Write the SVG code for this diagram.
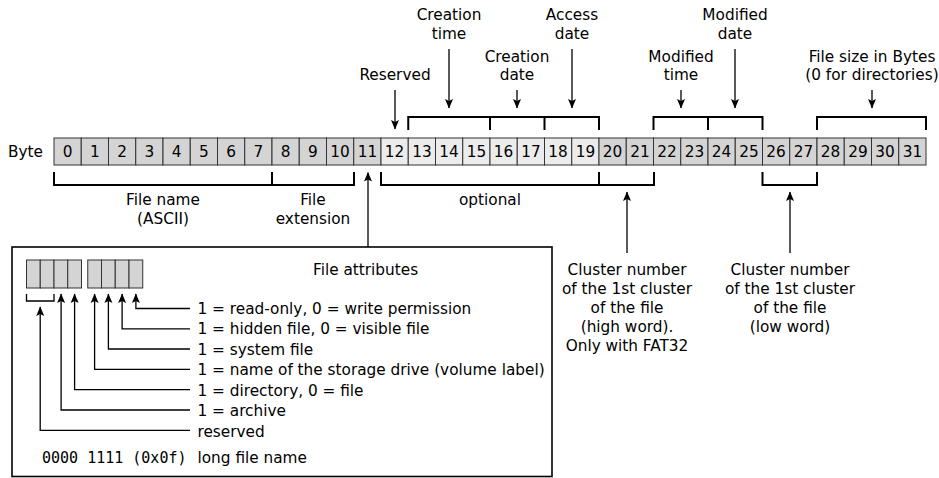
<svg xmlns="http://www.w3.org/2000/svg" width="939" height="478" viewBox="0 0 939 478">
<defs>
<marker id="ah" viewBox="-10 -5 11 10" refX="0" refY="0" markerWidth="11" markerHeight="10" markerUnits="userSpaceOnUse" orient="auto">
<path d="M0.5,0 L-9,-4 L-7,0 L-9,4 Z" fill="#000"/>
</marker>
<style>
text{font-family:"DejaVu Sans","Liberation Sans",sans-serif;font-size:15.3px;fill:#000}
.c{text-anchor:middle}
.mono{font-family:"DejaVu Sans Mono","Liberation Mono",monospace;font-size:15px}
.d{fill:#d4d4d4;stroke:#333;stroke-width:1}
.l{fill:#ececec;stroke:#333;stroke-width:1}
.br{fill:none;stroke:#000;stroke-width:2}
.ar{fill:none;stroke:#000;stroke-width:1.3;marker-end:url(#ah)}
.box{fill:#fff;stroke:#000;stroke-width:1.6}
</style>
</defs>
<rect width="939" height="478" fill="#fff"/>

<g id="byte-label"><text x="8" y="157">Byte</text></g>

<g id="byte-row">
<rect class="d" x="54" y="138" width="27.25" height="27"/><text class="c" x="67.6" y="157">0</text>
<rect class="d" x="81.25" y="138" width="27.25" height="27"/><text class="c" x="94.9" y="157">1</text>
<rect class="d" x="108.5" y="138" width="27.25" height="27"/><text class="c" x="122.1" y="157">2</text>
<rect class="d" x="135.75" y="138" width="27.25" height="27"/><text class="c" x="149.4" y="157">3</text>
<rect class="d" x="163" y="138" width="27.25" height="27"/><text class="c" x="176.6" y="157">4</text>
<rect class="d" x="190.25" y="138" width="27.25" height="27"/><text class="c" x="203.9" y="157">5</text>
<rect class="d" x="217.5" y="138" width="27.25" height="27"/><text class="c" x="231.1" y="157">6</text>
<rect class="d" x="244.75" y="138" width="27.25" height="27"/><text class="c" x="258.4" y="157">7</text>
<rect class="d" x="272" y="138" width="27.25" height="27"/><text class="c" x="285.6" y="157">8</text>
<rect class="d" x="299.25" y="138" width="27.25" height="27"/><text class="c" x="312.9" y="157">9</text>
<rect class="d" x="326.5" y="138" width="27.25" height="27"/><text class="c" x="340.1" y="157">10</text>
<rect class="d" x="353.75" y="138" width="27.25" height="27"/><text class="c" x="367.4" y="157">11</text>
<rect class="l" x="381" y="138" width="27.25" height="27"/><text class="c" x="394.6" y="157">12</text>
<rect class="l" x="408.25" y="138" width="27.25" height="27"/><text class="c" x="421.9" y="157">13</text>
<rect class="l" x="435.5" y="138" width="27.25" height="27"/><text class="c" x="449.1" y="157">14</text>
<rect class="l" x="462.75" y="138" width="27.25" height="27"/><text class="c" x="476.4" y="157">15</text>
<rect class="l" x="490" y="138" width="27.25" height="27"/><text class="c" x="503.6" y="157">16</text>
<rect class="l" x="517.25" y="138" width="27.25" height="27"/><text class="c" x="530.9" y="157">17</text>
<rect class="l" x="544.5" y="138" width="27.25" height="27"/><text class="c" x="558.1" y="157">18</text>
<rect class="l" x="571.75" y="138" width="27.25" height="27"/><text class="c" x="585.4" y="157">19</text>
<rect class="d" x="599" y="138" width="27.25" height="27"/><text class="c" x="612.6" y="157">20</text>
<rect class="d" x="626.25" y="138" width="27.25" height="27"/><text class="c" x="639.9" y="157">21</text>
<rect class="d" x="653.5" y="138" width="27.25" height="27"/><text class="c" x="667.1" y="157">22</text>
<rect class="d" x="680.75" y="138" width="27.25" height="27"/><text class="c" x="694.4" y="157">23</text>
<rect class="d" x="708" y="138" width="27.25" height="27"/><text class="c" x="721.6" y="157">24</text>
<rect class="d" x="735.25" y="138" width="27.25" height="27"/><text class="c" x="748.9" y="157">25</text>
<rect class="d" x="762.5" y="138" width="27.25" height="27"/><text class="c" x="776.1" y="157">26</text>
<rect class="d" x="789.75" y="138" width="27.25" height="27"/><text class="c" x="803.4" y="157">27</text>
<rect class="d" x="817" y="138" width="27.25" height="27"/><text class="c" x="830.6" y="157">28</text>
<rect class="d" x="844.25" y="138" width="27.25" height="27"/><text class="c" x="857.9" y="157">29</text>
<rect class="d" x="871.5" y="138" width="27.25" height="27"/><text class="c" x="885.1" y="157">30</text>
<rect class="d" x="898.75" y="138" width="27.25" height="27"/><text class="c" x="912.4" y="157">31</text>
</g>

<g id="labels-top">
<text class="c" x="395" y="80">Reserved</text>
<text class="c" x="449" y="20">Creation</text><text class="c" x="449" y="39">time</text>
<text class="c" x="517" y="61.5">Creation</text><text class="c" x="517" y="80">date</text>
<text class="c" x="572" y="20">Access</text><text class="c" x="572" y="39">date</text>
<text class="c" x="681" y="61.5">Modified</text><text class="c" x="681" y="80">time</text>
<text class="c" x="735" y="20">Modified</text><text class="c" x="735" y="39">date</text>
<text class="c" x="872" y="61.5">File size in Bytes</text><text class="c" x="872" y="80">(0 for directories)</text>
</g>

<g id="labels-bottom">
<text class="c" x="163" y="205">File name</text><text class="c" x="163" y="224">(ASCII)</text>
<text class="c" x="313" y="205">File</text><text class="c" x="313" y="224">extension</text>
<text class="c" x="490" y="205">optional</text>
<text class="c" x="627" y="275">Cluster number</text>
<text class="c" x="627" y="294">of the 1st cluster</text>
<text class="c" x="627" y="313">of the file</text>
<text class="c" x="627" y="332">(high word).</text>
<text class="c" x="627" y="351">Only with FAT32</text>
<text class="c" x="790" y="275">Cluster number</text>
<text class="c" x="790" y="294">of the 1st cluster</text>
<text class="c" x="790" y="313">of the file</text>
<text class="c" x="790" y="332">(low word)</text>
</g>

<g id="attributes-box">
<rect class="box" x="12" y="247" width="540" height="229.5"/>
<rect class="d" x="26.5" y="260" width="13.75" height="28"/>
<rect class="d" x="40.25" y="260" width="13.75" height="28"/>
<rect class="d" x="54" y="260" width="13.75" height="28"/>
<rect class="d" x="67.75" y="260" width="13.75" height="28"/>
<rect class="d" x="87.75" y="260" width="13.75" height="28"/>
<rect class="d" x="101.5" y="260" width="13.75" height="28"/>
<rect class="d" x="115.25" y="260" width="13.75" height="28"/>
<rect class="d" x="129" y="260" width="13.75" height="28"/>
<text x="313" y="275">File attributes</text>
<text x="197.5" y="313.5">1 = read-only, 0 = write permission</text>
<text x="197.5" y="334">1 = hidden file, 0 = visible file</text>
<text x="197.5" y="354.5">1 = system file</text>
<text x="197.5" y="375">1 = name of the storage drive (volume label)</text>
<text x="197.5" y="395.5">1 = directory, 0 = file</text>
<text x="197.5" y="416">1 = archive</text>
<text x="197.5" y="436.5">reserved</text>
<text class="mono" x="42" y="463">0000 1111 (0x0f)</text>
<text x="197.5" y="463">long file name</text>
</g>

<g id="connectors">
<path class="br" d="M54,172 V185 H272 V172 M272,185 H354 V172"/>
<path class="br" d="M381,172 V185 H599 V172 M599,185 H654 V172"/>
<path class="br" d="M762.5,172 V185 H817 V172"/>
<path class="br" d="M408.25,130 V117 H490 V130 M490,117 H544.5 V130 M544.5,117 H599 V130"/>
<path class="br" d="M653.5,130 V117 H708 V130 M708,117 H762.5 V130"/>
<path class="br" d="M817,130 V117 H926 V130"/>
<path class="ar" d="M395,90 V129"/>
<path class="ar" d="M449,49 V108"/>
<path class="ar" d="M517,90 V108"/>
<path class="ar" d="M572,49 V108"/>
<path class="ar" d="M681,90 V108"/>
<path class="ar" d="M735,49 V108"/>
<path class="ar" d="M872,90 V108"/>
<path class="ar" d="M368,247 V172.5"/>
<path class="ar" d="M627,253 V192"/>
<path class="ar" d="M790,253 V192"/>
<path fill="none" stroke="#000" stroke-width="1.3" d="M26.5,294 V301 H54 V294"/>
<path class="ar" d="M190,308.5 H135.9 V294"/>
<path class="ar" d="M190,328.8 H122.1 V294"/>
<path class="ar" d="M190,349 H108.4 V294"/>
<path class="ar" d="M190,369.3 H94.6 V294"/>
<path class="ar" d="M190,389.6 H74.6 V294"/>
<path class="ar" d="M190,410 H61.1 V294"/>
<path class="ar" d="M190,430.3 H40.2 V307"/>
</g>
</svg>
